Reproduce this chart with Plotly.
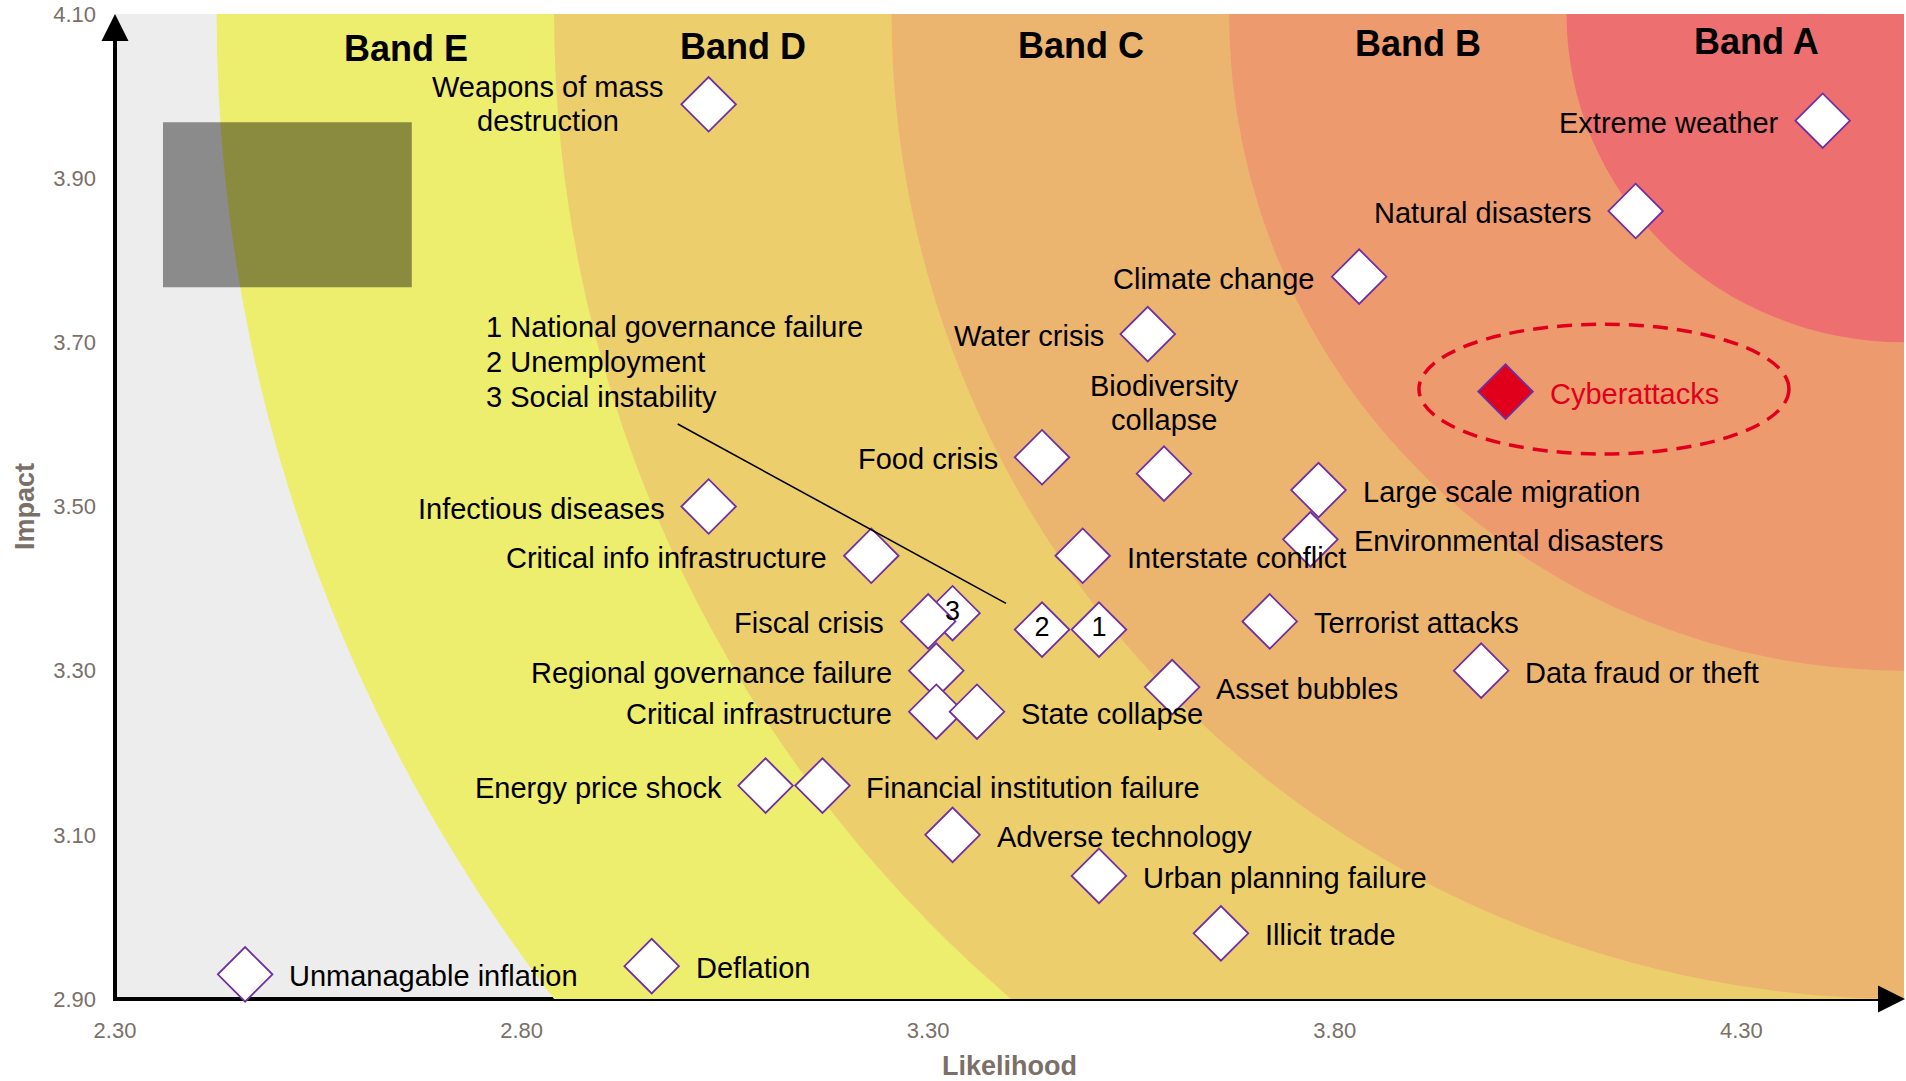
import plotly.graph_objects as go

# ---------------- data ----------------
risks = [
    "Weapons of mass destruction", "Extreme weather", "Natural disasters", "Climate change",
    "Water crisis", "Cyberattacks", "Biodiversity collapse", "Food crisis",
    "Large scale migration", "Environmental disasters", "Infectious diseases",
    "Critical info infrastructure", "Interstate conflict", "Social instability",
    "Fiscal crisis", "Unemployment", "National governance failure", "Terrorist attacks",
    "Data fraud or theft", "Regional governance failure", "Asset bubbles",
    "Critical infrastructure", "State collapse", "Energy price shock",
    "Financial institution failure", "Adverse technology", "Urban planning failure",
    "Illicit trade", "Unmanagable inflation", "Deflation",
]
likelihood = [
    3.03, 4.40, 4.17, 3.83,
    3.57, 4.01, 3.59, 3.44,
    3.78, 3.77, 3.03,
    3.23, 3.49, 3.33,
    3.30, 3.44, 3.51, 3.72,
    3.98, 3.31, 3.60,
    3.31, 3.36, 3.10,
    3.17, 3.33, 3.51,
    3.66, 2.46, 2.96,
]
impact = [
    3.99, 3.97, 3.86, 3.78,
    3.71, 3.64, 3.54, 3.56,
    3.52, 3.46, 3.50,
    3.44, 3.44, 3.37,
    3.36, 3.35, 3.35, 3.36,
    3.30, 3.30, 3.28,
    3.25, 3.25, 3.16,
    3.16, 3.10, 3.05,
    2.98, 2.93, 2.94,
]
numbered_risks = ["National governance failure", "Unemployment", "Social instability"]
highlighted_risk = "Cyberattacks"

x_tick_vals = [2.30, 2.80, 3.30, 3.80, 4.30]
y_tick_vals = [2.90, 3.10, 3.30, 3.50, 3.70, 3.90, 4.10]
band_names = ["Band E", "Band D", "Band C", "Band B", "Band A"]

# ---------------- layout constants ----------------
W, H = 1906, 1081
ML, MR, MT, MB = 115, 2, 14, 82
PW, PH = W - ML - MR, H - MT - MB
X0, X1 = 2.30, 4.50
Y0, Y1 = 2.90, 4.10

FONT = "Arial, Liberation Sans, sans-serif"
LABEL_SIZE = 29
GREY_TXT = "#7A7068"
PURPLE = "#7030A0"
RED = "#E0001B"

band_colors = ["#EDED6E", "#ECCE6C", "#EBB570", "#EE9A6F", "#EE6F6F"]
band_rx_step, band_ry_step = 0.415, 0.400
band_label_pos = [(2.658, 4.058), (3.072, 4.0605), (3.488, 4.062), (3.902, 4.064), (4.319, 4.0665)]

# label placement: side, dx(px), dy(px)
right_side = {"Cyberattacks", "Large scale migration", "Environmental disasters",
              "Interstate conflict", "Terrorist attacks", "Data fraud or theft",
              "Asset bubbles", "State collapse", "Financial institution failure",
              "Adverse technology", "Urban planning failure", "Illicit trade",
              "Unmanagable inflation", "Deflation"}
multi_line = {
    "Weapons of mass destruction": (["Weapons of mass", "destruction"], -161, 0),
    "Biodiversity collapse": (["Biodiversity", "collapse"], 0, 71),
}
LINE_GAP = 34
GAP = 43

fig = go.Figure()

shapes = []
# concentric bands centred on top-right corner
for i, col in enumerate(band_colors):
    k = len(band_colors) - i
    rx, ry = band_rx_step * k, band_ry_step * k
    shapes.append(dict(type="circle", xref="x", yref="y", layer="below",
                       x0=X1 - rx, x1=X1 + rx, y0=Y1 - ry, y1=Y1 + ry,
                       fillcolor=col, line=dict(width=0)))

# dark (redacted) rectangle
shapes.append(dict(type="rect", xref="x", yref="y", layer="below",
                   x0=2.359, x1=2.665, y0=3.767, y1=3.968,
                   fillcolor="rgba(0,0,0,0.41)", line=dict(width=0)))

# axis lines (below the markers)
shapes.append(dict(type="line", xref="paper", yref="paper", layer="below",
                   x0=0, x1=0, y0=-2 / PH, y1=1 - 20 / PH,
                   line=dict(color="black", width=4)))
shapes.append(dict(type="line", xref="paper", yref="paper", layer="below",
                   x0=-2 / PW, x1=1 - 20 / PW, y0=0, y1=0,
                   line=dict(color="black", width=4)))
# arrow heads
hw, hl = 13.5, 27
shapes.append(dict(type="path", xref="paper", yref="paper",
                   path=f"M {-hw/PW} {1-hl/PH} L {hw/PW} {1-hl/PH} L 0 1 Z",
                   fillcolor="black", line=dict(width=0)))
shapes.append(dict(type="path", xref="paper", yref="paper",
                   path=f"M {1-hl/PW+1/PW} {-hw/PH} L {1-hl/PW+1/PW} {hw/PH} L {1+1/PW} 0 Z",
                   fillcolor="black", line=dict(width=0)))

# Cyberattacks dashed ellipse
cyb_i = risks.index(highlighted_risk)
ecx, ecy = likelihood[cyb_i] + 0.121, impact[cyb_i] + 0.003
shapes.append(dict(type="circle", xref="x", yref="y",
                   x0=ecx - 0.2275, x1=ecx + 0.2275, y0=ecy - 0.079, y1=ecy + 0.079,
                   line=dict(color=RED, width=3.5, dash="15px,9px")))

# leader line from numbered key to the numbered diamonds
shapes.append(dict(type="line", xref="x", yref="y",
                   x0=2.992, y0=3.6005, x1=3.3957, y1=3.382,
                   line=dict(color="black", width=1.6)))

# markers
fills = [RED if r == highlighted_risk else "white" for r in risks]
inner = [str(numbered_risks.index(r) + 1) if r in numbered_risks else "" for r in risks]
fig.add_trace(go.Scatter(
    x=likelihood, y=impact, mode="markers+text", text=inner,
    textposition="middle center",
    textfont=dict(family=FONT, size=27, color="black"),
    marker=dict(symbol="diamond", size=42, color=fills,
                line=dict(color=PURPLE, width=1.8)),
    cliponaxis=False, showlegend=False, hovertext=risks, hoverinfo="text+x+y",
))

annotations = []
for r, x, y in zip(risks, likelihood, impact):
    if r in numbered_risks:
        continue
    col = RED if r == highlighted_risk else "black"
    if r in multi_line:
        lines, dx, dy = multi_line[r]
        n = len(lines)
        for j, ln in enumerate(lines):
            annotations.append(dict(
                x=x, y=y, xref="x", yref="y", text=ln, showarrow=False,
                xanchor="center", yanchor="middle", xshift=dx,
                yshift=dy + ((n - 1) / 2 - j) * LINE_GAP, borderpad=0,
                font=dict(family=FONT, size=LABEL_SIZE, color=col)))
    else:
        right = r in right_side
        annotations.append(dict(
            x=x, y=y, xref="x", yref="y", text=r, showarrow=False,
            xanchor="left" if right else "right", yanchor="middle",
            xshift=GAP if right else -GAP, yshift=-2, borderpad=0,
            font=dict(family=FONT, size=LABEL_SIZE, color=col)))

# numbered key
key_lines = [f"{i + 1} {r}" for i, r in enumerate(numbered_risks)]
for j, ln in enumerate(key_lines):
    annotations.append(dict(
        x=2.755, y=3.676, xref="x", yref="y", text=ln, showarrow=False,
        xanchor="left", yanchor="middle", yshift=(1 - j) * 35, borderpad=0,
        font=dict(family=FONT, size=LABEL_SIZE, color="black")))

# band labels
for name, (bx, by) in zip(band_names, band_label_pos):
    annotations.append(dict(
        x=bx, y=by, xref="x", yref="y", text=f"<b>{name}</b>", showarrow=False,
        xanchor="center", yanchor="middle", borderpad=0,
        font=dict(family=FONT, size=36, color="black")))

fig.update_layout(
    template="none",
    width=W, height=H,
    margin=dict(l=ML, r=MR, t=MT, b=MB, pad=0),
    paper_bgcolor="white",
    plot_bgcolor="#EDEDED",
    shapes=shapes,
    annotations=annotations,
    showlegend=False,
    font=dict(family=FONT),
    xaxis=dict(
        range=[X0, X1], showgrid=False, zeroline=False, showline=False, ticks="",
        tickvals=x_tick_vals, ticktext=[f"{v:.2f}" for v in x_tick_vals],
        tickfont=dict(family=FONT, size=22, color=GREY_TXT),
        ticklabelstandoff=16,
        title=dict(text="Likelihood", standoff=16,
                   font=dict(family=FONT, size=27, color=GREY_TXT, weight="bold")),
    ),
    yaxis=dict(
        range=[Y0, Y1], showgrid=False, zeroline=False, showline=False, ticks="",
        tickvals=y_tick_vals, ticktext=[f"{v:.2f}" for v in y_tick_vals],
        tickfont=dict(family=FONT, size=22, color=GREY_TXT),
        ticklabelstandoff=18,
        title=dict(text="Impact", standoff=10,
                   font=dict(family=FONT, size=27, color=GREY_TXT, weight="bold")),
    ),
)

fig.write_html("out.html", config={"displayModeBar": False},
               post_script="document.body.style.margin='0px';document.body.style.overflow='hidden';")
